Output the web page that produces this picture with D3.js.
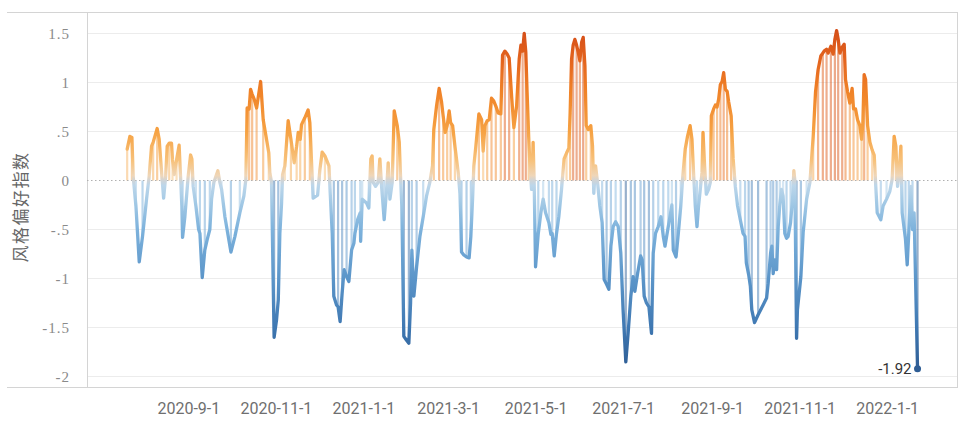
<!DOCTYPE html>
<html><head><meta charset="utf-8">
<script src="https://cdn.jsdelivr.net/npm/d3@7/dist/d3.min.js"></script>
<style>body{margin:0;background:#fff}svg{display:block}</style>
</head><body><svg id="c" width="960" height="426"></svg>
<script>
// ---- data ----
const baseDate = "2020-09-01";
const dayOffsets = [
-43.0,-41.1,-39.7,-38.8,-36.9,-34.6,-32.3,-29.5,-27.7,-26.0,-24.9,-23.7,-22.1,-20.7,-19.0,-17.6,-16.2,-15.1,-13.7,-12.1,
-11.4,-10.2,-8.6,-6.8,-5.8,-4.9,-4.4,-2.8,-0.5,1.2,2.1,3.0,4.9,6.8,7.7,9.3,11.1,12.8,14.6,15.8,
17.4,18.8,20.2,21.6,22.8,25.1,29.3,32.1,35.5,38.3,39.7,40.6,42.0,43.0,44.1,45.5,47.2,50.0,51.8,54.1,
55.7,56.4,57.6,58.8,59.4,61.1,62.3,63.4,64.6,65.3,66.9,69.2,71.1,73.4,75.1,76.2,77.6,78.5,80.8,83.1,
84.3,85.5,86.6,89.7,91.3,92.9,94.8,97.6,98.5,99.9,101.0,102.9,104.0,105.4,106.8,108.2,109.9,111.5,113.4,115.0,
115.7,117.6,119.4,119.7,120.8,123.8,125.4,126.8,127.7,128.4,130.1,131.9,133.1,134.3,136.1,137.8,138.9,140.1,141.7,143.1,
145.2,146.6,147.6,148.4,149.8,151.7,153.3,154.5,155.4,156.8,158.7,161.0,163.3,165.6,167.9,169.8,170.7,172.6,174.4,176.1,
177.2,178.6,180.0,181.4,182.4,183.8,185.4,187.7,188.9,189.5,190.0,191.6,193.5,195.3,196.5,197.7,198.6,200.0,202.1,204.0,
205.1,206.3,207.9,209.3,210.9,212.5,213.9,215.5,217.4,218.6,220.2,221.8,223.2,224.9,226.5,228.4,230.2,231.4,232.6,233.7,
234.8,235.7,236.8,237.6,238.8,239.9,240.6,241.6,243.5,245.3,246.9,248.6,250.9,252.3,253.2,254.6,256.2,257.8,259.7,261.5,
263.2,264.8,265.7,266.7,267.8,269.0,270.2,271.3,272.5,273.7,274.8,276.0,276.9,278.3,280.1,281.3,282.2,283.4,284.8,286.4,
288.0,289.4,291.1,292.7,294.1,295.7,297.4,299.2,301.0,302.6,304.5,306.1,308.0,309.6,310.8,312.7,314.8,315.9,317.3,318.9,
320.6,322.4,323.6,325.2,327.1,329.0,330.6,331.8,334.1,335.7,336.6,337.6,339.5,341.1,342.8,344.2,345.9,347.5,349.3,350.6,
351.7,352.9,354.1,355.2,356.4,357.6,358.3,359.4,360.6,362.2,363.4,364.1,365.7,366.9,368.1,369.2,370.4,371.6,372.7,373.9,
375.1,376.2,377.9,379.3,380.8,382.4,384.3,386.2,387.6,388.5,390.1,391.3,392.3,394.2,396.7,400.2,402.6,403.7,405.4,406.3,
407.2,408.4,409.6,410.7,411.8,413.0,414.1,415.3,416.5,417.6,419.3,420.7,421.6,422.3,423.5,424.1,426.5,428.1,430.5,432.8,
435.1,436.7,438.5,440.4,441.8,442.7,444.4,445.5,447.4,449.0,450.2,451.4,452.5,453.7,455.3,456.7,457.6,459.0,460.6,462.2,
463.2,464.6,466.0,467.6,468.8,469.7,470.6,471.6,473.0,474.6,476.2,477.6,478.7,479.7,482.2,483.8,486.2,488.5,490.1,491.5,
492.7,493.9,495.0,496.2,497.1,498.3,499.4,500.6,501.7,503.1,504.3,505.4,507.8
];
const styleValues = [
0.32,0.45,0.44,0.04,-0.26,-0.83,-0.57,-0.19,0.04,0.35,0.39,0.45,0.53,0.42,0.08,-0.18,0.04,0.35,0.38,0.38,
0.21,0.06,0.21,0.36,0.04,-0.26,-0.58,-0.37,0.04,0.26,0.22,-0.06,-0.26,-0.5,-0.54,-0.99,-0.71,-0.6,-0.5,-0.19,
-0.02,0.04,0.1,-0.02,-0.09,-0.37,-0.73,-0.57,-0.33,-0.16,0.01,0.74,0.73,0.93,0.88,0.83,0.74,1.01,0.62,0.42,
0.28,0.08,-0.02,-1.08,-1.6,-1.42,-1.22,-0.54,-0.23,0.06,0.15,0.61,0.42,0.18,0.35,0.49,0.42,0.57,0.64,0.72,
0.59,0.18,-0.18,-0.15,0.11,0.29,0.25,0.15,-0.13,-0.54,-1.18,-1.27,-1.29,-1.44,-1.15,-0.91,-0.98,-1.03,-0.71,-0.64,
-0.54,-0.4,-0.33,-0.62,-0.19,-0.23,-0.28,0.22,0.25,-0.02,-0.06,-0.02,0.22,-0.06,-0.4,-0.09,0.18,-0.19,-0.02,0.71,
0.56,0.39,0.01,-0.26,-1.59,-1.63,-1.66,-1.25,-0.71,-1.18,-0.88,-0.57,-0.37,-0.16,-0.02,0.15,0.52,0.76,0.94,0.8,
0.66,0.49,0.56,0.71,0.59,0.56,0.35,0.08,-0.13,-0.4,-0.73,-0.76,-0.78,-0.79,-0.57,-0.19,0.15,0.35,0.68,0.62,
0.3,0.56,0.61,0.62,0.84,0.81,0.76,0.69,0.68,1.28,1.32,1.29,1.25,0.86,0.54,0.76,1.24,1.38,1.32,1.5,
1.31,0.9,0.45,0.18,-0.09,0.39,0.01,-0.88,-0.54,-0.33,-0.19,-0.33,-0.43,-0.55,-0.54,-0.77,-0.54,-0.37,-0.09,0.22,
0.28,0.33,0.69,1.24,1.38,1.44,1.38,1.31,1.22,1.41,1.46,1.17,0.56,0.52,0.56,0.35,-0.13,0.15,-0.02,-0.26,
-0.43,-1.01,-1.06,-1.11,-0.67,-0.47,-0.42,-0.47,-0.74,-1.32,-1.85,-1.56,-1.18,-0.98,-1.13,-0.95,-0.77,-0.81,-1.18,-1.25,
-1.29,-1.56,-0.74,-0.54,-0.47,-0.37,-0.57,-0.67,-0.47,-0.33,-0.25,-0.71,-0.78,-0.54,-0.26,0.04,0.32,0.45,0.56,0.42,
0.08,-0.26,-0.47,-0.26,-0.09,0.08,0.49,0.15,-0.14,-0.09,-0.02,0.66,0.73,0.77,0.75,0.83,0.98,1.01,1.1,0.93,
0.91,0.8,0.66,0.22,-0.06,-0.26,-0.4,-0.54,-0.57,-0.84,-0.96,-1.08,-1.32,-1.45,-1.37,-1.27,-1.2,-1.05,-0.74,-0.67,
-0.95,-0.81,-0.91,-0.47,-0.25,-0.09,-0.16,-0.54,-0.59,-0.57,-0.43,-0.19,0.1,0.0,-1.61,-1.32,-0.98,-0.53,-0.19,-0.02,
0.45,0.9,1.13,1.27,1.3,1.32,1.34,1.3,1.37,1.29,1.44,1.53,1.44,1.3,1.36,1.39,1.03,0.91,0.79,0.94,
0.73,0.73,0.62,0.56,0.42,0.59,1.08,1.03,0.56,0.39,0.31,0.26,-0.06,-0.33,-0.4,-0.26,-0.19,-0.11,0.01,0.45,
0.35,-0.06,0.08,0.35,-0.33,-0.47,-0.6,-0.86,-0.53,-0.06,-0.5,-0.33,-1.92
];
const yTicks = [-2, -1.5, -1, -0.5, 0, 0.5, 1, 1.5];
const xTickDates = ["2020-09-01","2020-11-01","2021-01-01","2021-03-01","2021-05-01","2021-07-01","2021-09-01","2021-11-01","2022-01-01"];
const xDomain = ["2020-06-22", "2022-02-19"];
const yDomain = [-2, 1.5];
const yTitle = "风格偏好指数";
const colorStops = [1.55, 1.2, 0.9, 0.5, 0.2, 0.05, 0, -0.05, -0.2, -0.5, -1.0, -1.5, -1.95];
const colorRange = ["#d44d18","#e5661e","#f08328","#f6a243","#f7c27c","#efd6b8","#d0d4d6","#bcd6ea","#a6cbe6","#7db2dc","#5b95c9","#3f78b2","#2d5b92"];

// ---- chart ----
(function () {
const parse = d3.utcParse("%Y-%m-%d");
const base = parse(baseDate);
const data = dayOffsets.map((d, i) => ({date: new Date(base.getTime() + d * 864e5), value: styleValues[i]}));

const svg = d3.select("#c");
const pl = 87, pr = 958, pt = 12, pb = 387;
const x = d3.scaleUtc().domain(xDomain.map(parse)).range([pl, pr]);
const y = d3.scaleLinear().domain(yDomain).range([376.5, 33.5]);
const col = d3.scaleLinear().domain(colorStops).range(colorRange);

// gradient
const defs = svg.append("defs");
const gy1 = y(colorStops[0]), gy2 = y(colorStops[colorStops.length - 1]);
const grad = defs.append("linearGradient").attr("id", "g").attr("gradientUnits", "userSpaceOnUse")
  .attr("x1", 0).attr("x2", 0).attr("y1", gy1).attr("y2", gy2);
colorStops.forEach((v, i) => grad.append("stop").attr("offset", (y(v) - gy1) / (gy2 - gy1)).attr("stop-color", colorRange[i]));

// gridlines
svg.append("g").selectAll("line").data(yTicks.filter(t => t !== 0)).join("line")
  .attr("x1", pl).attr("x2", pr).attr("y1", d => y(d)).attr("y2", d => y(d))
  .attr("stroke", "#ececec").attr("stroke-width", 1);

// frame
const fr = svg.append("g").attr("stroke", "#d4d4d4").attr("stroke-width", 1).attr("fill", "none");
fr.append("line").attr("x1", 7).attr("x2", pr).attr("y1", pt + 0.5).attr("y2", pt + 0.5);
fr.append("line").attr("x1", 7).attr("x2", pr).attr("y1", pb + 0.5).attr("y2", pb + 0.5);
fr.append("line").attr("x1", pl + 0.5).attr("x2", pl + 0.5).attr("y1", pt).attr("y2", pb);
fr.append("line").attr("x1", pr - 0.5).attr("x2", pr - 0.5).attr("y1", pt).attr("y2", pb);

// drop lines
svg.append("g").selectAll("line").data(data.filter((d, i) => i % 2 === 0)).join("line")
  .attr("x1", d => x(d.date)).attr("x2", d => x(d.date))
  .attr("y1", y(0)).attr("y2", d => y(d.value))
  .attr("stroke", d => col(d.value)).attr("stroke-opacity", 0.5).attr("stroke-width", 2.2);

// zero line
svg.append("line").attr("x1", pl).attr("x2", pr).attr("y1", y(0)).attr("y2", y(0))
  .attr("stroke", "#b0b0b0").attr("stroke-width", 1).attr("stroke-dasharray", "1.5,2.5");

// main line
svg.append("path").datum(data)
  .attr("d", d3.line().x(d => x(d.date)).y(d => y(d.value)))
  .attr("fill", "none").attr("stroke", "url(#g)").attr("stroke-width", 3.3)
  .attr("stroke-linejoin", "round").attr("stroke-linecap", "round");

// end point + label
const last = data[data.length - 1];
svg.append("circle").attr("cx", x(last.date)).attr("cy", y(last.value)).attr("r", 3.5).attr("fill", col(last.value));
svg.append("text").attr("x", x(last.date) - 6).attr("y", y(last.value) + 5)
  .attr("text-anchor", "end").attr("font-family", "Roboto, 'Noto Sans', sans-serif").attr("font-size", 15)
  .attr("fill", "#333").text(last.value.toFixed(2));

// y ticks
const yFmt = v => v === 0 ? "0" : String(v).replace(/^(-?)0\./, "$1.");
svg.append("g").selectAll("text").data(yTicks).join("text")
  .attr("x", 70).attr("y", d => y(d) + 5).attr("text-anchor", "end")
  .attr("font-family", "'Liberation Serif', 'DejaVu Serif', serif").attr("font-size", 15)
  .attr("letter-spacing", 1)
  .attr("fill", "#8a8a8a").text(yFmt);

// x ticks
const xFmt = d3.utcFormat("%Y-%-m-%-d");
svg.append("g").selectAll("text").data(xTickDates.map(parse)).join("text")
  .attr("x", d => x(d)).attr("y", 414).attr("text-anchor", "middle")
  .attr("font-family", "Roboto, 'Noto Sans', sans-serif").attr("font-size", 16)
  .attr("fill", "#6f6f6f").text(xFmt);

// y title
svg.append("text").attr("transform", `translate(27,207) rotate(-90)`)
  .attr("text-anchor", "middle").attr("font-family", "'Noto Sans CJK SC', sans-serif")
  .attr("font-size", 17).attr("fill", "#666").attr("letter-spacing", 1.5).text(yTitle);
})();
</script></body></html>
